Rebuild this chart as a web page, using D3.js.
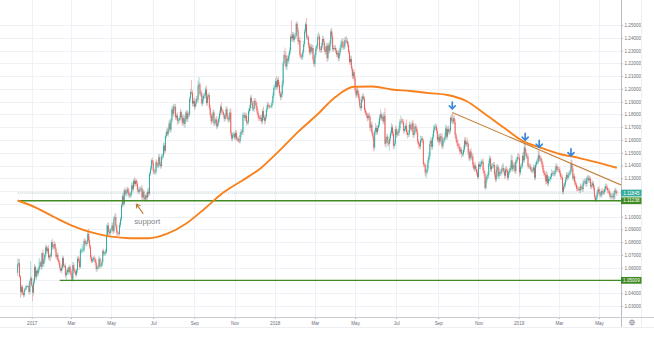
<!DOCTYPE html>
<html>
<head>
<meta charset="utf-8">
<script src="https://cdn.jsdelivr.net/npm/d3@7"></script>
<style>
  html, body { margin: 0; padding: 0; background: #ffffff; }
  svg { display: block; }
</style>
</head>
<body>
<svg id="chart" width="654" height="337"></svg>
<script>
// ---------------------------------------------------------------
// EUR/USD, daily bars from 2016-12-12 to 2019-05-28 (weekdays only)
// ---------------------------------------------------------------
const firstOpen = 1.0560;

const closes2016 = [1.0625,1.0635,1.0530,1.0410,1.0450,1.0400,1.0385,1.0425,1.0435,1.0455,1.0455,1.0455,1.0410,1.0495,1.0520];

const closes2017 = [
  1.0460,1.0405,1.0490,1.0605,1.0530,1.0575,1.0555,1.0585,1.0615,1.0640,1.0605,1.0715,1.0630,1.0660,1.0700,1.0760,1.0730,1.0750,1.0680,1.0695,1.0690,1.0800,
  1.0760,1.0765,1.0785,1.0745,1.0685,1.0700,1.0660,1.0640,1.0600,1.0575,1.0600,1.0675,1.0615,1.0615,1.0540,1.0560,1.0585,1.0565,1.0605,1.0575,
  1.0545,1.0505,1.0620,1.0580,1.0570,1.0545,1.0580,1.0670,1.0655,1.0605,1.0735,1.0735,1.0740,1.0740,1.0810,1.0795,1.0785,1.0800,1.0865,1.0815,1.0765,1.0680,1.0650,
  1.0665,1.0675,1.0665,1.0640,1.0590,1.0600,1.0610,1.0670,1.0615,1.0615,1.0645,1.0730,1.0710,1.0715,1.0725,1.0855,1.0930,1.0880,1.0870,1.0895,
  1.0900,1.0930,1.0885,1.0985,1.0995,1.0925,1.0875,1.0870,1.0865,1.0935,1.0980,1.1090,1.1160,1.1100,1.1205,1.1180,1.1185,1.1215,1.1195,1.1165,1.1165,1.1180,1.1245,
  1.1215,1.1280,1.1255,1.1280,1.1260,1.1210,1.1195,1.1210,1.1215,1.1220,1.1150,1.1195,1.1150,1.1135,1.1165,1.1150,1.1195,1.1180,1.1335,1.1375,1.1440,1.1425,
  1.1360,1.1350,1.1350,1.1425,1.1400,1.1400,1.1465,1.1410,1.1395,1.1470,1.1475,1.1555,1.1515,1.1630,1.1665,1.1645,1.1685,1.1730,1.1680,1.1750,1.1840,
  1.1805,1.1860,1.1860,1.1775,1.1790,1.1750,1.1755,1.1770,1.1820,1.1780,1.1735,1.1770,1.1725,1.1760,1.1815,1.1765,1.1805,1.1800,1.1925,1.1975,1.1970,1.1885,1.1905,
  1.1860,1.1885,1.1920,1.1915,1.2025,1.2035,1.1960,1.1965,1.1885,1.1920,1.1945,1.1950,1.1995,1.1890,1.1940,1.1950,1.1850,1.1795,1.1745,1.1785,1.1815,
  1.1730,1.1740,1.1760,1.1705,1.1730,1.1765,1.1810,1.1860,1.1825,1.1820,1.1795,1.1765,1.1785,1.1840,1.1785,1.1760,1.1760,1.1815,1.1655,1.1610,1.1640,1.1645,
  1.1620,1.1655,1.1610,1.1610,1.1595,1.1590,1.1640,1.1665,1.1660,1.1795,1.1795,1.1770,1.1790,1.1735,1.1740,1.1825,1.1850,1.1930,1.1895,1.1845,1.1845,1.1905,
  1.1895,1.1865,1.1825,1.1795,1.1770,1.1765,1.1775,1.1745,1.1825,1.1775,1.1750,1.1780,1.1840,1.1875,1.1870,1.1860,1.1860,1.1865,1.1890,1.1945,1.2005
];

const closes2018 = [
  1.2010,1.2060,1.2015,1.2070,1.2030,1.1965,1.1935,1.1955,1.2035,1.2200,1.2265,1.2260,1.2175,1.2235,1.2220,1.2260,1.2300,1.2410,1.2395,1.2425,1.2385,1.2410,1.2415,
  1.2510,1.2460,1.2370,1.2380,1.2265,1.2250,1.2250,1.2290,1.2350,1.2450,1.2505,1.2405,1.2405,1.2340,1.2285,1.2330,1.2295,1.2320,1.2230,1.2195,
  1.2265,1.2315,1.2335,1.2405,1.2410,1.2310,1.2305,1.2335,1.2390,1.2370,1.2305,1.2290,1.2335,1.2240,1.2340,1.2300,1.2355,1.2450,1.2410,1.2310,1.2320,1.2320,
  1.2300,1.2270,1.2280,1.2240,1.2280,1.2320,1.2355,1.2370,1.2325,1.2330,1.2380,1.2375,1.2375,1.2345,1.2290,1.2210,1.2235,1.2160,1.2100,1.2130,1.2080,
  1.1990,1.1950,1.1990,1.1960,1.1925,1.1865,1.1850,1.1915,1.1940,1.1925,1.1835,1.1810,1.1795,1.1770,1.1790,1.1780,1.1695,1.1720,1.1655,1.1625,1.1540,1.1665,1.1695,
  1.1660,1.1695,1.1720,1.1775,1.1800,1.1770,1.1780,1.1745,1.1790,1.1570,1.1605,1.1625,1.1575,1.1570,1.1610,1.1655,1.1700,1.1650,1.1555,1.1570,1.1685,
  1.1640,1.1660,1.1655,1.1690,1.1745,1.1750,1.1745,1.1740,1.1670,1.1685,1.1710,1.1660,1.1640,1.1645,1.1720,1.1690,1.1685,1.1730,1.1640,1.1655,1.1705,1.1690,
  1.1660,1.1585,1.1565,1.1550,1.1600,1.1610,1.1595,1.1410,1.1405,1.1345,1.1345,1.1375,1.1440,1.1475,1.1570,1.1595,1.1545,1.1625,1.1680,1.1700,1.1705,1.1670,1.1600,
  1.1620,1.1585,1.1630,1.1625,1.1550,1.1595,1.1600,1.1625,1.1690,1.1625,1.1685,1.1665,1.1670,1.1775,1.1750,1.1745,1.1770,1.1740,1.1640,1.1605,
  1.1575,1.1550,1.1545,1.1510,1.1525,1.1490,1.1490,1.1525,1.1595,1.1565,1.1580,1.1570,1.1500,1.1455,1.1510,1.1465,1.1470,1.1405,1.1375,1.1400,1.1370,1.1345,1.1310,
  1.1410,1.1390,1.1405,1.1430,1.1430,1.1360,1.1335,1.1225,1.1285,1.1315,1.1325,1.1415,1.1455,1.1370,1.1395,1.1400,1.1405,1.1330,1.1290,1.1370,1.1390,1.1315,
  1.1350,1.1340,1.1345,1.1375,1.1380,1.1355,1.1320,1.1370,1.1360,1.1305,1.1345,1.1360,1.1380,1.1440,1.1370,1.1400,1.1400,1.1355,1.1435,1.1445,1.1465
];

const closes2019 = [
  1.1460,1.1345,1.1390,1.1395,1.1475,1.1440,1.1540,1.1500,1.1470,1.1470,1.1395,1.1395,1.1390,1.1365,1.1365,1.1360,1.1385,1.1305,1.1405,1.1430,1.1430,1.1480,1.1450,
  1.1455,1.1435,1.1405,1.1360,1.1340,1.1325,1.1275,1.1325,1.1260,1.1295,1.1295,1.1310,1.1340,1.1340,1.1335,1.1335,1.1360,1.1395,1.1370,1.1370,
  1.1365,1.1340,1.1310,1.1305,1.1195,1.1235,1.1250,1.1290,1.1325,1.1305,1.1325,1.1340,1.1350,1.1415,1.1375,1.1300,1.1315,1.1265,1.1250,1.1220,1.1215,
  1.1215,1.1205,1.1235,1.1225,1.1215,1.1265,1.1275,1.1275,1.1255,1.1300,1.1305,1.1285,1.1295,1.1235,1.1245,1.1260,1.1225,1.1155,1.1130,1.1150,1.1185,1.1215,
  1.1195,1.1170,1.1170,1.1200,1.1190,1.1190,1.1215,1.1235,1.1225,1.1205,1.1200,1.1175,1.1155,1.1160,1.1160,1.1150,1.1180,1.1205,1.1195,1.11845
];

// Upper / lower shadows in pips, measured from the top / bottom of each body
const wickUp2016 = [45,35,35,12,18,15,10,14,10,12,6,8,22,15,130];
const wickUp2017 = [
  12,10,22,25,15,14,20,18,60,12,22,6,28,10,14,22,13,19,27,11,21,15,
  28,22,25,14,20,15,21,12,18,10,26,20,14,11,22,15,16,19,14,21,
  18,14,25,21,15,20,13,16,22,27,19,14,45,21,16,20,24,15,19,41,22,14,18,
  19,16,21,14,26,18,15,22,13,11,21,14,19,16,22,82,20,24,20,16,
  14,21,24,19,27,30,16,18,14,21,19,16,22,26,14,24,18,16,21,25,19,14,26,
  21,14,26,19,16,22,24,15,21,18,26,20,16,19,14,22,25,31,14,19,16,24,
  19,16,21,24,18,14,26,21,19,23,16,24,21,15,19,29,18,24,31,22,24,
  31,24,19,22,14,26,18,21,25,13,19,27,22,29,16,21,24,18,15,26,95,22,24,
  24,19,21,26,38,57,18,24,21,26,19,24,22,31,23,19,21,26,18,16,21,
  21,24,19,26,16,21,24,18,34,21,19,15,22,24,19,26,21,29,31,14,19,16,
  19,24,21,16,19,14,26,21,19,22,16,21,24,19,16,21,26,19,22,14,24,21,
  24,19,26,21,14,19,21,24,19,36,21,19,16,21,24,14,10,9,19,26,21
];
const wickUp2018 = [
  29,24,41,18,26,24,19,22,31,16,30,58,29,21,31,24,26,19,127,21,19,26,22,
  13,24,21,19,31,16,21,19,26,21,19,50,21,16,19,24,21,29,19,21,
  21,24,19,26,38,21,24,26,29,19,24,21,19,26,21,24,26,19,29,31,24,19,
  24,21,19,26,21,19,26,24,26,19,24,29,39,21,24,19,26,24,21,24,19,
  21,16,24,19,21,19,24,29,21,26,19,21,16,19,21,24,19,21,24,19,15,15,38,
  21,19,26,24,40,21,19,26,29,60,21,24,19,21,26,19,31,21,19,24,29,
  21,24,16,26,19,40,21,19,24,21,19,51,21,29,24,19,26,21,29,16,21,24,
  21,24,19,21,34,19,21,19,16,14,21,34,24,29,21,26,19,24,36,21,24,19,21,
  21,26,24,19,26,21,19,31,29,24,21,29,26,15,28,65,21,24,26,19,
  21,24,19,26,21,19,21,31,24,29,21,39,19,21,19,26,29,21,24,19,26,21,24,
  19,21,24,19,16,24,21,21,24,19,29,24,26,19,21,19,21,24,19,34,21,19,
  26,29,19,24,39,31,24,21,26,19,24,21,26,44,39,21,24,26,19,24,29
];
const wickUp2019 = [
  34,29,21,24,26,31,29,30,29,19,24,21,19,22,18,21,26,19,21,18,24,36,34,
  29,19,21,18,22,19,21,34,19,22,18,21,29,19,22,18,26,24,19,21,
  19,22,18,21,19,26,21,19,24,21,18,22,19,33,29,21,24,19,21,18,22,
  21,19,24,18,21,22,19,21,26,18,21,19,22,18,24,21,19,22,15,19,21,18,
  21,19,22,18,21,19,22,26,19,21,18,22,19,21,26,19,22,18,21,15
];

const wickDown2016 = [25,18,10,45,25,12,20,15,12,10,8,10,18,20,25];
const wickDown2017 = [
  10,65,24,19,21,26,29,18,21,14,22,19,16,24,21,19,14,21,19,26,38,16,
  21,19,16,21,14,24,16,19,21,14,19,21,16,14,21,46,16,19,21,14,
  16,11,14,21,16,19,14,21,16,19,14,26,19,21,16,19,21,14,16,21,19,16,14,
  14,21,19,21,19,21,14,16,24,11,14,21,19,16,21,19,21,24,16,19,
  19,16,21,19,16,21,35,14,16,14,21,16,19,21,16,19,24,21,19,21,16,19,21,
  19,16,21,19,21,19,16,21,19,21,24,19,21,17,16,21,19,24,16,19,16,21,
  24,21,19,21,19,21,16,19,21,19,21,19,24,16,19,14,21,19,24,21,19,
  24,21,29,19,21,34,24,21,19,21,24,19,21,29,19,21,24,19,21,29,19,24,21,
  24,19,21,19,21,24,19,21,19,21,19,21,24,26,19,21,19,21,24,19,21,
  21,19,24,21,16,19,21,19,24,21,19,21,19,21,19,24,21,19,21,19,21,19,
  19,21,19,21,16,14,19,21,19,21,19,24,21,24,19,21,19,24,21,19,21,24,
  21,24,19,24,21,19,21,19,21,19,29,21,19,21,19,21,10,9,21,19,21
];
const wickDown2018 = [
  9,21,19,21,19,21,24,19,21,19,21,19,21,29,19,21,19,24,21,29,19,21,19,
  21,19,24,26,21,19,24,21,19,21,19,21,19,21,19,21,19,21,19,21,
  24,21,19,21,19,24,21,24,19,21,19,21,24,29,24,26,19,21,19,21,19,16,
  19,21,19,24,21,19,21,24,19,21,19,21,19,21,19,21,24,19,24,21,19,
  21,19,21,19,24,21,19,24,21,19,21,19,21,24,19,21,24,29,21,24,30,19,24,
  19,21,24,19,21,19,21,19,24,21,29,21,24,19,55,21,19,21,28,24,19,
  21,19,21,24,19,21,19,21,19,21,19,21,29,19,21,19,21,19,24,21,19,21,
  19,21,29,24,19,21,19,21,19,29,44,21,19,21,24,19,24,21,19,21,19,21,19,
  21,29,19,21,19,21,24,19,21,19,21,19,21,19,21,19,21,19,24,21,
  21,19,21,24,19,29,21,19,21,19,21,19,21,19,21,19,24,21,19,21,19,21,19,
  16,19,21,19,21,19,21,10,19,21,19,24,21,19,21,19,21,19,21,19,21,19,
  21,19,21,19,21,19,24,21,19,24,21,19,21,19,21,16,15,19,21,19,21
];
const wickDown2019 = [
  14,32,19,21,19,21,19,21,19,21,19,21,19,21,19,21,19,21,19,21,19,21,19,
  21,19,21,19,21,19,24,21,19,21,19,21,19,21,19,21,19,21,19,21,
  21,19,21,19,19,21,19,21,19,21,19,21,19,21,19,21,19,21,19,21,19,
  14,19,21,19,21,19,21,19,21,19,21,19,21,19,21,19,21,19,15,20,19,21,
  19,21,19,21,19,21,19,21,19,21,19,21,19,21,19,21,19,45,19,21
];

// 200-day simple moving average, sampled every 20 bars
const smaBars   = [0,20,40,60,80,100,120,140,160,180,200,220,240,260,280,300,320,340,360,380,400,420,440,460,480,500,520,540,560,580,600,620,641];
const smaValues = [1.1126,1.1069,1.0993,1.0924,1.0874,1.0843,1.0831,1.0830,1.0866,1.0944,1.1062,1.1188,1.1281,1.1379,1.1516,1.1663,1.1795,1.1936,1.2016,1.2018,1.1995,1.1983,1.1967,1.1952,1.1905,1.1803,1.1697,1.1593,1.1538,1.1490,1.1460,1.1424,1.1382];

// Horizontal support levels and where each one starts
const levelPrices = [1.11238, 1.05009];
const levelStarts = ["2016-12-12", "2017-02-13"];

// Falling trendline through two swing highs
const trendDates  = ["2018-09-24", "2019-01-10"];
const trendPrices = [1.1815, 1.1570];

// Lower highs marked with arrows
const arrowDates = ["2018-09-24", "2019-01-10", "2019-01-31", "2019-03-20"];

// "support" note pointing at the June 2017 retest
const noteText = "support";
const noteDate = "2017-06-07";
const notePrice = 1.1098;

// Axis ticks
const priceTicks = [1.25,1.24,1.23,1.22,1.21,1.20,1.19,1.18,1.17,1.16,1.15,1.14,1.13,1.12,1.11,1.10,1.09,1.08,1.07,1.06,1.05,1.04,1.03];
const timeTickDates  = ["2017-01-02","2017-03-01","2017-05-01","2017-07-03","2017-09-01","2017-11-01","2018-01-01","2018-03-01","2018-05-01","2018-07-02","2018-09-03","2018-11-01","2019-01-01","2019-03-01","2019-05-01"];
const timeTickLabels = ["2017","Mar","May","Jul","Sep","Nov","2018","Mar","May","Jul","Sep","Nov","2019","Mar","May"];

// ---------------------------------------------------------------
const closes   = [].concat(closes2016, closes2017, closes2018, closes2019);
const wickUp   = [].concat(wickUp2016, wickUp2017, wickUp2018, wickUp2019);
const wickDown = [].concat(wickDown2016, wickDown2017, wickDown2018, wickDown2019);

// trading calendar: every weekday from the first bar on
const fmtDay = d3.timeFormat("%Y-%m-%d");
const dates = [];
for (let d = new Date(2016, 11, 12); dates.length < closes.length; d = d3.timeDay.offset(d, 1)) {
  const wd = d.getDay();
  if (wd !== 0 && wd !== 6) dates.push(fmtDay(d));
}
const barOf = new Map(dates.map((d, i) => [d, i]));

const bars = closes.map((c, i) => {
  const o = i === 0 ? firstOpen : closes[i - 1];
  const top = Math.max(o, c), bot = Math.min(o, c);
  return { i, o, c, top, bot, high: top + wickUp[i] / 10000, low: bot - wickDown[i] / 10000 };
});

const UP = "#26a69a", DOWN = "#ef5350";
const plotRight = 621, plotBottom = 317;
const barStep = 0.9346, firstX = 17.7;

const x = d3.scaleLinear().domain([0, bars.length - 1]).range([firstX, firstX + (bars.length - 1) * barStep]);
const y = d3.scaleLinear().domain([1.03, 1.25]).range([306, 25]);

const svg = d3.select("#chart");
svg.append("rect").attr("width", 654).attr("height", 337).attr("fill", "#ffffff");

svg.append("defs").append("clipPath").attr("id", "plot")
  .append("rect").attr("x", 0).attr("y", 0).attr("width", plotRight).attr("height", plotBottom);

const plot = svg.append("g").attr("clip-path", "url(#plot)");

// grid
const timeTickBars = timeTickDates.map(d => barOf.get(d));
plot.append("g").selectAll("line").data(priceTicks).join("line")
  .attr("x1", 0).attr("x2", plotRight)
  .attr("y1", d => Math.round(y(d)) + 0.5).attr("y2", d => Math.round(y(d)) + 0.5)
  .attr("stroke", "#eef1f6").attr("stroke-width", 1);
plot.append("g").selectAll("line").data(timeTickBars).join("line")
  .attr("x1", d => Math.round(x(d)) + 0.5).attr("x2", d => Math.round(x(d)) + 0.5)
  .attr("y1", 0).attr("y2", plotBottom)
  .attr("stroke", "#eef1f6").attr("stroke-width", 1);

// last price line
const lastPrice = closes[closes.length - 1];
plot.append("line")
  .attr("x1", x(0)).attr("x2", plotRight)
  .attr("y1", y(lastPrice)).attr("y2", y(lastPrice))
  .attr("stroke", "#9fb8b6").attr("stroke-width", 0.8).attr("stroke-dasharray", "1,1");

// candles
const candles = plot.append("g");
candles.selectAll("line").data(bars).join("line")
  .attr("x1", d => x(d.i)).attr("x2", d => x(d.i))
  .attr("y1", d => y(d.high)).attr("y2", d => y(d.low))
  .attr("stroke", d => d.c >= d.o ? UP : DOWN)
  .attr("stroke-width", 0.55).attr("opacity", 0.75);
candles.selectAll("rect").data(bars).join("rect")
  .attr("x", d => x(d.i) - 0.45).attr("width", 0.9)
  .attr("y", d => y(d.top))
  .attr("height", d => Math.max(0.7, y(d.bot) - y(d.top)))
  .attr("fill", d => d.c >= d.o ? UP : DOWN);

// horizontal levels
plot.append("g").selectAll("line").data(levelPrices).join("line")
  .attr("x1", (d, i) => x(barOf.get(levelStarts[i]))).attr("x2", plotRight)
  .attr("y1", d => y(d)).attr("y2", d => y(d))
  .attr("stroke", "#3f8a22").attr("stroke-width", 1.4);

// moving average
const sma = smaBars.map((b, i) => [b, smaValues[i]]);
plot.append("path").datum(sma)
  .attr("d", d3.line().x(d => x(d[0])).y(d => y(d[1])).curve(d3.curveMonotoneX))
  .attr("fill", "none").attr("stroke", "#f9811c").attr("stroke-width", 1.9)
  .attr("stroke-linejoin", "round");

// trendline, extended to the right edge
const tb0 = barOf.get(trendDates[0]), tb1 = barOf.get(trendDates[1]);
const slope = (trendPrices[1] - trendPrices[0]) / (tb1 - tb0);
const tbEnd = x.invert(plotRight);
plot.append("line")
  .attr("x1", x(tb0)).attr("y1", y(trendPrices[0]))
  .attr("x2", x(tbEnd)).attr("y2", y(trendPrices[0] + slope * (tbEnd - tb0)))
  .attr("stroke", "#c4803b").attr("stroke-width", 1.1);

// arrows over the lower highs
plot.append("g").selectAll("path").data(arrowDates).join("path")
  .attr("d", d => {
    const b = bars[barOf.get(d)];
    const cx = x(b.i), tip = y(b.high) - 3.5;
    return `M${cx},${tip - 7}L${cx},${tip - 0.8}M${cx - 3},${tip - 3.2}L${cx},${tip}L${cx + 3},${tip - 3.2}`;
  })
  .attr("fill", "none").attr("stroke", "#3c87d8").attr("stroke-width", 1.7)
  .attr("stroke-linecap", "round").attr("stroke-linejoin", "round");

// support note
const nx = x(barOf.get(noteDate)), ny = y(notePrice);
plot.append("path")
  .attr("d", `M${nx + 6.6},${ny + 9.3}L${nx},${ny}M${nx + 0.2},${ny + 4}L${nx},${ny}L${nx + 3.6},${ny + 1.4}`)
  .attr("fill", "none").attr("stroke", "#c17d36").attr("stroke-width", 1.1)
  .attr("stroke-linecap", "round").attr("stroke-linejoin", "round");
plot.append("text")
  .attr("x", nx - 2.2).attr("y", ny + 20.3)
  .attr("font-family", "Liberation Sans, Arial, sans-serif").attr("font-size", 7.8)
  .attr("fill", "#808389").text(noteText);

// price axis
const boxPrices = [lastPrice].concat(levelPrices);
const shownTicks = priceTicks.filter(p => boxPrices.every(b => Math.abs(y(p) - y(b)) > 5));
const yAxis = svg.append("g").attr("transform", `translate(${plotRight},0)`)
  .call(d3.axisRight(y).tickValues(shownTicks).tickFormat(d3.format(".5f")).tickSize(2).tickPadding(1.5));
yAxis.select(".domain").remove();
yAxis.selectAll(".tick line").attr("stroke", "#b2b5be");
yAxis.selectAll("text").attr("font-family", "Liberation Sans, Arial, sans-serif")
  .attr("font-size", 4.6).attr("fill", "#6b6e78");

svg.append("line").attr("x1", plotRight + 0.5).attr("x2", plotRight + 0.5)
  .attr("y1", 0).attr("y2", 327).attr("stroke", "#b9bcc4").attr("stroke-width", 1);
svg.append("line").attr("x1", 641.5).attr("x2", 641.5)
  .attr("y1", 0).attr("y2", 327).attr("stroke", "#eceef2").attr("stroke-width", 1);

// price badges
const badgeColors = ["#34ab9c", "#3f8a22", "#3f8a22"];
const badges = svg.append("g").selectAll("g").data(boxPrices).join("g")
  .attr("transform", d => `translate(${plotRight},${y(d)})`);
badges.append("rect").attr("x", 0).attr("y", -3.4).attr("width", 20.5).attr("height", 6.8)
  .attr("fill", (d, i) => badgeColors[i]);
badges.append("text").attr("x", 10.4).attr("y", 0).attr("dy", "0.35em")
  .attr("text-anchor", "middle")
  .attr("font-family", "Liberation Sans, Arial, sans-serif").attr("font-size", 4.6)
  .attr("fill", "#ffffff").text(d => d3.format(".5f")(d));

// time axis
const xAxis = svg.append("g").attr("transform", `translate(0,${plotBottom})`)
  .call(d3.axisBottom(x).tickValues(timeTickBars).tickFormat((d, i) => timeTickLabels[i]).tickSize(2).tickPadding(2.5));
xAxis.select(".domain").remove();
xAxis.selectAll(".tick line").attr("stroke", "#b2b5be");
xAxis.selectAll("text").attr("font-family", "Liberation Sans, Arial, sans-serif")
  .attr("font-size", 4.6).attr("fill", "#6b6e78");

svg.append("line").attr("x1", 0).attr("x2", 654)
  .attr("y1", plotBottom + 0.5).attr("y2", plotBottom + 0.5)
  .attr("stroke", "#c9ccd3").attr("stroke-width", 1);
svg.append("line").attr("x1", 0).attr("x2", 654)
  .attr("y1", 327.5).attr("y2", 327.5)
  .attr("stroke", "#eceef2").attr("stroke-width", 1);

// settings gear
const gear = svg.append("g").attr("transform", "translate(632,322.5)")
  .attr("fill", "none").attr("stroke", "#787b86").attr("stroke-width", 0.7);
gear.append("circle").attr("r", 2.2);
gear.append("circle").attr("r", 0.8);
gear.selectAll("line").data(d3.range(8)).join("line")
  .attr("x1", d => 2.2 * Math.cos(d * Math.PI / 4)).attr("y1", d => 2.2 * Math.sin(d * Math.PI / 4))
  .attr("x2", d => 3.1 * Math.cos(d * Math.PI / 4)).attr("y2", d => 3.1 * Math.sin(d * Math.PI / 4));
</script>
</body>
</html>
